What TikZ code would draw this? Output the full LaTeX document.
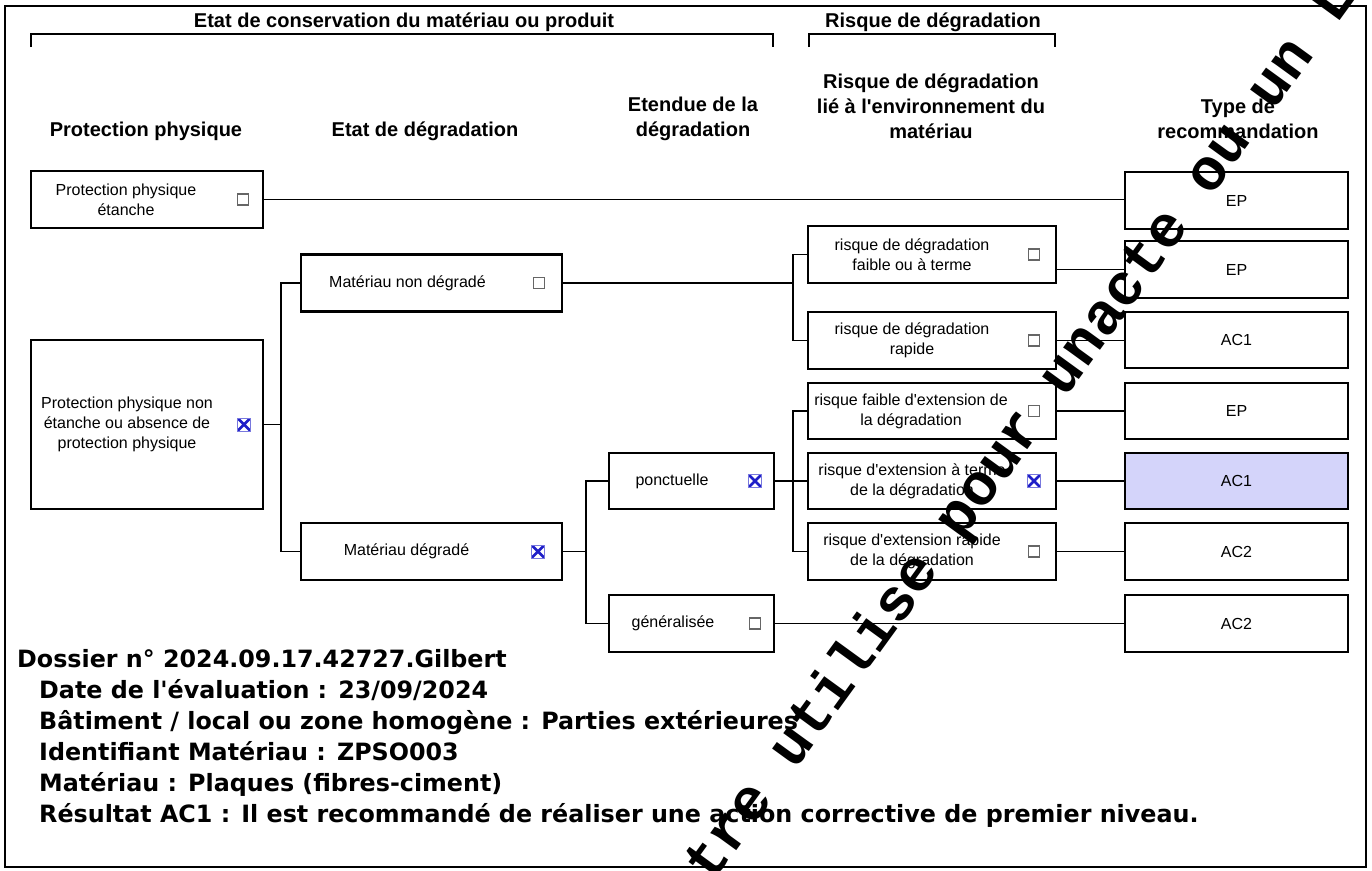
\documentclass[tikz,border=0pt]{standalone}
\usepackage{fontspec}
\setmainfont{Liberation Sans}
\newfontfamily\piedfont{DejaVu Sans}
\newfontfamily\filigfont{Liberation Mono}
\usetikzlibrary{positioning,calc}
\definecolor{bleucoche}{RGB}{30,30,200}
\definecolor{lavande}{RGB}{212,212,250}
\tikzset{boite/.style={draw, line width=2.1pt, inner sep=0pt, minimum height=57pt, font=\fontsize{16}{20}\selectfont}}
\tikzset{texte/.style={font=\fontsize{16}{20}\selectfont, align=center, inner sep=0pt}}
\tikzset{entete/.style={font=\fontsize{20}{25}\selectfont\bfseries, align=center, inner sep=0pt}}
\tikzset{casevide/.style={draw=black!60, line width=1.3pt, minimum size=11pt, inner sep=0pt}}
\tikzset{casecochee/.style={draw=bleucoche!60, line width=0.6pt, minimum size=13pt, inner sep=0pt,
  path picture={\draw[bleucoche, line width=2.6pt] (path picture bounding box.north west) -- (path picture bounding box.south east)
  (path picture bounding box.north east) -- (path picture bounding box.south west);}}}
\tikzset{lien/.style={line width=1.9pt}}
\tikzset{pied/.style={font=\piedfont\bfseries\fontsize{23.8}{28}\selectfont, anchor=base west, inner sep=0pt}}
\tikzset{filigrane/.style={font=\filigfont\bfseries\fontsize{59}{59}\selectfont, inner sep=0pt}}

\begin{document}
\begin{tikzpicture}[x=1pt, y=-1pt]
\useasboundingbox (0,0) rectangle (1372,870);
\draw[line width=2.4pt] (5,6) rectangle (1366,867);

% accolades du haut
\node[entete] (titre1) at (404,22) {Etat de conservation du matériau ou produit};
\node[entete] (titre2) at (933,22) {Risque de dégradation};
\draw[lien] (31,47) -- (31,34) -- (773,34) -- (773,47);
\draw[lien] (809,47) -- (809,34) -- (1055,34) -- (1055,47);

% en-tetes de colonnes
\node[entete] (hPP) at (146,131) {Protection physique};
\node[entete] (hED) at (425,131) {Etat de dégradation};
\node[entete] (hEt) at (693,118.5) {Etendue de la\\dégradation};
\node[entete] (hRi) at (931,106) {Risque de dégradation\\lié à l\textquotesingle environnement du\\matériau};
\node[entete] (hTy) at (1238,118.5) {Type de\\recommandation};

% protection physique
\node[boite, minimum width=232pt] (ppe) at (147,199.5) {};
\node[boite, minimum width=232pt, minimum height=169pt] (ppne) at (147,424.5) {};
\node[texte] (tppe) at ([xshift=-21pt]ppe.center) {Protection physique\\étanche};
\node[texte] (tppne) at ([xshift=-20pt]ppne.center) {Protection physique non\\étanche ou absence de\\protection physique};
\node[casevide] (cppe) at ([xshift=-21pt]ppe.east) {};
\node[casecochee] (cppne) at ([xshift=-20pt]ppne.east) {};

% etat de degradation
\node[boite, minimum width=261pt] (mnd) at (431.5,283) {};
\node[boite, minimum width=261pt] (md) at (431.5,551.5) {};
\node[texte] (tmnd) at ([xshift=-24pt]mnd.center) {Matériau non dégradé};
\node[texte] (tmd) at ([xshift=-25pt]md.center) {Matériau dégradé};
\node[casevide] (cmnd) at ([xshift=-24pt]mnd.east) {};
\node[casecochee] (cmd) at ([xshift=-25pt]md.east) {};

% etendue
\node[boite, minimum width=165pt, minimum height=56pt] (ponc) at (691.5,481) {};
\node[boite, minimum width=165pt] (gen) at (691.5,623.5) {};
\node[texte] (tponc) at ([xshift=-19.5pt]ponc.center) {ponctuelle};
\node[texte] (tgen) at ([xshift=-18.5pt]gen.center) {généralisée};
\node[casecochee] (cponc) at ([xshift=-20pt]ponc.east) {};
\node[casevide] (cgen) at ([xshift=-20pt]gen.east) {};

% risque lie a l'environnement
\node[boite, minimum width=248pt] (r1) at (932,254.5) {};
\node[boite, minimum width=248pt] (r2) at (932,340.5) {};
\node[boite, minimum width=248pt, minimum height=56pt] (r3) at (932,411) {};
\node[boite, minimum width=248pt, minimum height=56pt] (r4) at (932,481) {};
\node[boite, minimum width=248pt] (r5) at (932,551.5) {};
\node[texte] (tr1) at ([xshift=-20pt]r1.center) {risque de dégradation\\faible ou à terme};
\node[texte] (tr2) at ([xshift=-20pt]r2.center) {risque de dégradation\\rapide};
\node[texte] (tr3) at ([xshift=-21pt]r3.center) {risque faible d\textquotesingle extension de\\la dégradation};
\node[texte] (tr4) at ([xshift=-20pt]r4.center) {risque d\textquotesingle extension à terme\\de la dégradation};
\node[texte] (tr5) at ([xshift=-20pt]r5.center) {risque d\textquotesingle extension rapide\\de la dégradation};
\node[casevide] (cr1) at ([xshift=-23pt]r1.east) {};
\node[casevide] (cr2) at ([xshift=-23pt]r2.east) {};
\node[casevide] (cr3) at ([xshift=-23pt]r3.east) {};
\node[casecochee] (cr4) at ([xshift=-23pt]r4.east) {};
\node[casevide] (cr5) at ([xshift=-23pt]r5.east) {};

% type de recommandation
\node[boite, minimum width=223pt] (e1) at (1236.5,200.5) {EP};
\node[boite, minimum width=223pt] (e2) at (1236.5,269.5) {EP};
\node[boite, minimum width=223pt, minimum height=56pt] (a1) at (1236.5,340) {AC1};
\node[boite, minimum width=223pt, minimum height=56pt] (e3) at (1236.5,411) {EP};
\node[boite, minimum width=223pt, minimum height=56pt, fill=lavande] (a1b) at (1236.5,481) {AC1};
\node[boite, minimum width=223pt] (a2) at (1236.5,551.5) {AC2};
\node[boite, minimum width=223pt] (a2b) at (1236.5,623.5) {AC2};

% liaisons
\coordinate (j1) at (281,424.5);
\coordinate (j2) at (793,283);
\coordinate (j3) at (586,551.5);
\coordinate (j4) at (793,481);
\draw[lien] (ppe.east) -- (ppe.east -| e1.west);
\draw[lien] (ppne.east) -- (j1);
\draw[lien] (mnd.west) -| (j1) |- (md.west);
\draw[lien] (mnd.east) -- (j2);
\draw[lien] (r1.west) -| (j2) |- (r2.west);
\draw[lien] (md.east) -- (j3);
\draw[lien] (ponc.west) -| (j3) |- (gen.west);
\draw[lien] (ponc.east) -- (r4.west);
\draw[lien] (r3.west) -| (j4) |- (r5.west);
\draw[lien] (gen.east) -- (a2b.west);
\draw[lien] (r1.east |- e2.west) -- (e2.west);
\draw[lien] (r2.east) -- (r2.east -| a1.west);
\draw[lien] (r3.east) -- (e3.west);
\draw[lien] (r4.east) -- (a1b.west);
\draw[lien] (r5.east) -- (a2.west);

% bas de page
\node[pied] (p1) at (17,667) {Dossier n° 2024.09.17.42727.Gilbert};
\node[pied] (p2) at ($(p1.base west)+(22,31)$) {Date de l'évaluation : 23/09/2024};
\node[pied] (p3) at ($(p2.base west)+(0,31)$) {Bâtiment / local ou zone homogène : Parties extérieures};
\node[pied] (p4) at ($(p3.base west)+(0,31)$) {Identifiant Matériau : ZPSO003};
\node[pied] (p5) at ($(p4.base west)+(0,31)$) {Matériau : Plaques (fibres-ciment)};
\node[pied] (p6) at ($(p5.base west)+(0,31)$) {Résultat AC1 : Il est recommandé de réaliser une action corrective de premier niveau.};

% filigrane
\begin{scope}
\clip (0,0) rectangle (1372,870);
\node[filigrane, rotate=54] (filig) at (1022,432) {tre utilise pour unacte ou un L};
\end{scope}
\end{tikzpicture}
\end{document}
